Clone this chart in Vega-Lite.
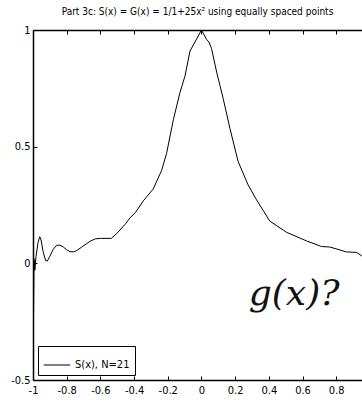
{
  "$schema": "https://vega.github.io/schema/vega-lite/v6.json",
  "autosize": {"type": "none"},
  "width": 329,
  "height": 350,
  "padding": {"left": 33, "top": 30, "right": 0, "bottom": 23},
  "background": "white",
  "title": {
    "text": "Part 3c: S(x) = G(x) = 1/1+25x² using equally spaced points",
    "font": "Liberation Sans Narrow, DejaVu Sans Condensed, sans-serif",
    "fontSize": 10,
    "fontWeight": "normal",
    "color": "#000",
    "anchor": "middle",
    "offset": 7
  },
  "config": {
    "view": {"stroke": null},
    "axis": {
      "labelFont": "Liberation Sans Narrow, DejaVu Sans Condensed, sans-serif",
      "labelFontSize": 11,
      "labelColor": "#000",
      "domainColor": "#000",
      "domainWidth": 1.5,
      "tickColor": "#000",
      "tickWidth": 1,
      "tickSize": -4,
      "grid": false,
      "title": null
    }
  },
  "datasets": {
    "curve": [
      {"x": -1.0, "y": -0.49},
      {"x": -0.994, "y": 0.02},
      {"x": -0.989, "y": -0.03},
      {"x": -0.982, "y": 0.03},
      {"x": -0.97, "y": 0.09},
      {"x": -0.96, "y": 0.114},
      {"x": -0.952, "y": 0.1},
      {"x": -0.94, "y": 0.05},
      {"x": -0.925, "y": 0.012},
      {"x": -0.915, "y": 0.01},
      {"x": -0.9, "y": 0.03},
      {"x": -0.88, "y": 0.06},
      {"x": -0.86, "y": 0.077},
      {"x": -0.84, "y": 0.078},
      {"x": -0.82, "y": 0.07},
      {"x": -0.8, "y": 0.058},
      {"x": -0.78, "y": 0.05},
      {"x": -0.76, "y": 0.049},
      {"x": -0.74, "y": 0.055},
      {"x": -0.71, "y": 0.07},
      {"x": -0.684, "y": 0.083},
      {"x": -0.66, "y": 0.095},
      {"x": -0.63, "y": 0.105},
      {"x": -0.6, "y": 0.107},
      {"x": -0.535, "y": 0.107},
      {"x": -0.5, "y": 0.13},
      {"x": -0.45, "y": 0.17},
      {"x": -0.424, "y": 0.195},
      {"x": -0.39, "y": 0.22},
      {"x": -0.345, "y": 0.268},
      {"x": -0.286, "y": 0.319},
      {"x": -0.236, "y": 0.399},
      {"x": -0.207, "y": 0.471},
      {"x": -0.167, "y": 0.615},
      {"x": -0.128, "y": 0.731},
      {"x": -0.098, "y": 0.802},
      {"x": -0.068, "y": 0.91},
      {"x": -0.029, "y": 0.961},
      {"x": 0.0, "y": 1.0},
      {"x": 0.03, "y": 0.96},
      {"x": 0.045, "y": 0.948},
      {"x": 0.06, "y": 0.92},
      {"x": 0.09, "y": 0.82},
      {"x": 0.129, "y": 0.706},
      {"x": 0.169, "y": 0.578},
      {"x": 0.218, "y": 0.436},
      {"x": 0.277, "y": 0.336},
      {"x": 0.327, "y": 0.272},
      {"x": 0.406, "y": 0.181},
      {"x": 0.505, "y": 0.133},
      {"x": 0.624, "y": 0.096},
      {"x": 0.713, "y": 0.072},
      {"x": 0.762, "y": 0.07},
      {"x": 0.86, "y": 0.049},
      {"x": 0.92, "y": 0.047},
      {"x": 0.95, "y": 0.033},
      {"x": 0.953, "y": 0.03}
    ],
    "note": [{"text": "g(x)?"}]
  },
  "layer": [
    {
      "data": {"name": "curve"},
      "transform": [{"calculate": "'S(x), N=21'", "as": "series"}],
      "mark": {"type": "line", "strokeWidth": 1, "clip": true},
      "encoding": {
        "x": {
          "field": "x", "type": "quantitative",
          "scale": {"domain": [-1, 0.953], "nice": false, "zero": false},
          "axis": {
            "orient": "bottom",
            "values": [-1, -0.8, -0.6, -0.4, -0.2, 0, 0.2, 0.4, 0.6, 0.8],
            "labelExpr": "'' + datum.value",
            "labelPadding": 8,
            "labelFlush": false
          }
        },
        "y": {
          "field": "y", "type": "quantitative",
          "scale": {"domain": [-0.5, 1], "nice": false, "zero": false},
          "axis": {
            "orient": "left",
            "values": [-0.5, 0, 0.5, 1],
            "labelExpr": "'' + datum.value",
            "labelPadding": 7,
            "labelFlush": false
          }
        },
        "color": {
          "field": "series", "type": "nominal",
          "scale": {"range": ["#000000"]},
          "legend": {
            "title": null,
            "orient": "bottom-left",
            "offset": 5,
            "symbolType": "stroke",
            "symbolSize": 700,
            "symbolStrokeWidth": 1,
            "labelFont": "Liberation Sans Narrow, DejaVu Sans Condensed, sans-serif",
            "labelFontSize": 11,
            "labelColor": "#000",
            "strokeColor": "#000",
            "fillColor": "white",
            "padding": 5,
            "cornerRadius": 0
          }
        }
      }
    },
    {
      "data": {"name": "curve"},
      "mark": {"type": "line", "strokeOpacity": 0},
      "encoding": {
        "x": {
          "field": "x", "type": "quantitative",
          "axis": {
            "orient": "top",
            "values": [-1, -0.8, -0.6, -0.4, -0.2, 0, 0.2, 0.4, 0.6, 0.8],
            "labels": false
          }
        },
        "y": {"field": "y", "type": "quantitative"}
      }
    },
    {
      "data": {"name": "note"},
      "mark": {
        "type": "text",
        "font": "DejaVu Serif",
        "fontStyle": "italic",
        "fontSize": 36,
        "color": "#111",
        "align": "center",
        "baseline": "middle"
      },
      "encoding": {
        "x": {"datum": 0.55, "type": "quantitative", "axis": null},
        "y": {"datum": -0.13, "type": "quantitative"},
        "text": {"field": "text"}
      }
    }
  ],
  "resolve": {"axis": {"x": "independent"}}
}
